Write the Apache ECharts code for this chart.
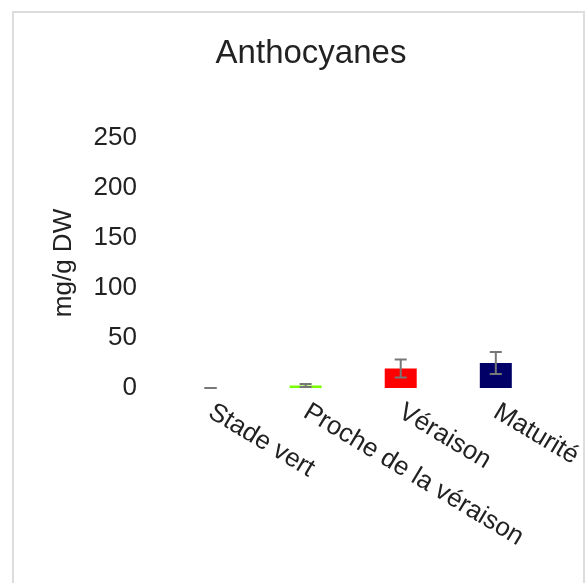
<!DOCTYPE html>
<html>
<head>
<meta charset="utf-8">
<script src="https://cdn.jsdelivr.net/npm/echarts@6/dist/echarts.min.js"></script>
<style>html,body{margin:0;padding:0;background:#fff}#c{width:585px;height:583px}</style>
</head>
<body>
<div id="c"></div>
<script>
const categories = ['Stade vert', 'Proche de la véraison', 'Véraison', 'Maturité'];
const values = [0, 2.5, 19.5, 25];
const errors = [0, 1.5, 9, 11];
const barColors = ['#7CFC00', '#7CFC00', '#ff0000', '#000066'];
const yTicks = [0, 50, 100, 150, 200, 250];

const chart = echarts.init(document.getElementById('c'));
const F = 'Liberation Sans, Arial, sans-serif';
chart.setOption({
  animation: false,
  graphic: [{
    type: 'rect', silent: true, z: -1,
    shape: {x: 13, y: 12, width: 571, height: 600},
    style: {fill: 'none', stroke: '#dddddd', lineWidth: 2}
  }],
  title: {
    text: 'Anthocyanes', left: 306, top: 32, textAlign: 'center',
    textStyle: {fontFamily: F, fontSize: 33, fontWeight: 'normal', color: '#222'}
  },
  grid: {left: 163, right: 37, top: 138, bottom: 195},
  xAxis: {
    type: 'category', data: categories,
    axisLine: {show: false}, axisTick: {show: false},
    axisLabel: {rotate: -31, interval: 0, margin: 22, fontFamily: F, fontSize: 26, color: '#222'}
  },
  yAxis: {
    type: 'value', min: 0, max: 250, interval: 50,
    name: 'mg/g DW', nameLocation: 'middle', nameGap: 86, nameRotate: 90,
    nameTextStyle: {fontFamily: F, fontSize: 26, color: '#222'},
    axisLine: {show: false}, axisTick: {show: false}, splitLine: {show: false},
    axisLabel: {margin: 26, fontFamily: F, fontSize: 26, color: '#222',
      formatter: v => yTicks.includes(v) ? String(v) : ''}
  },
  series: [{
    type: 'bar', barWidth: 32,
    data: values.map((v, i) => ({value: v, itemStyle: {color: barColors[i]}}))
  }, {
    type: 'custom', z: 10,
    data: values.map((v, i) => [i, v - errors[i], v + errors[i]]),
    renderItem: function (params, api) {
      const lo = api.coord([api.value(0), api.value(1)]);
      const hi = api.coord([api.value(0), api.value(2)]);
      const w = 6;
      const st = {stroke: '#777', lineWidth: 2};
      return {type: 'group', children: [
        {type: 'line', shape: {x1: lo[0], y1: lo[1], x2: hi[0], y2: hi[1]}, style: st},
        {type: 'line', shape: {x1: lo[0] - w, y1: lo[1], x2: lo[0] + w, y2: lo[1]}, style: st},
        {type: 'line', shape: {x1: hi[0] - w, y1: hi[1], x2: hi[0] + w, y2: hi[1]}, style: st}
      ]};
    }
  }]
});
</script>
</body>
</html>
